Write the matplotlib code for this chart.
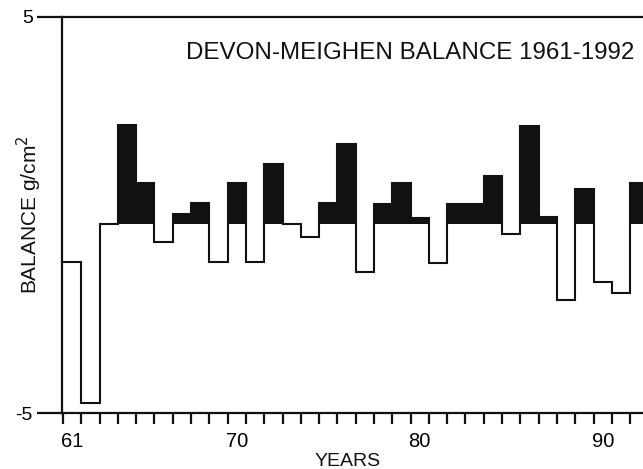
import numpy as np
import matplotlib
matplotlib.use("Agg")
import matplotlib.pyplot as plt
from matplotlib.ticker import FixedLocator, FixedFormatter, NullFormatter

## Annual balance (g/cm2), one value per year
years = list(range(61, 93))
balance = [-1.19, -4.75, -0.23, 2.27, 0.82, -0.69, 0.03, 0.30,
           -1.18, 0.82, -1.18, 1.28, -0.23, -0.55, 0.30, 1.79,
           -1.43, 0.28, 0.80, -0.08, -1.22, 0.28, 0.28, 0.99,
           -0.49, 2.26, -0.04, -2.15, 0.66, -1.68, -1.96, 0.80]
baseline = -0.23   # reference level of the black fill

labelYears = [61, 70, 80, 90]

plt.rcParams["font.family"] = ["Liberation Sans", "DejaVu Sans"]

fig = plt.figure(figsize=(6.43, 4.69), dpi=100, facecolor="white")
ax = fig.add_axes([62/643, 56/469, 581/643, 396/469])

vals = np.array(balance)
edges = np.append(years, years[-1] + 1)

## Black fill above the reference level
ax.bar(years, np.clip(vals - baseline, 0, None), bottom=baseline,
       width=1.0, align="edge", color="#111111", lw=0)

## Step outline of the balance
ax.stairs(vals, edges, baseline=None, color="#111111", lw=1.5)

ax.set_xlim(60.95, 92.7)
ax.set_ylim(-5, 5)

ax.spines["right"].set_visible(False)
for s in ["left", "top", "bottom"]:
  ax.spines[s].set_linewidth(1.6)
  ax.spines[s].set_color("#111111")

## y ticks only at the ends
ax.set_yticks([-5, 5])
ax.set_yticklabels(["-5", "5"], fontsize=14)
ax.tick_params(axis="y", length=18, width=1.6, pad=3, color="#111111")

## x ticks every year, labels centred on the year
ax.xaxis.set_major_locator(FixedLocator(years + [93]))
ax.xaxis.set_major_formatter(NullFormatter())
ax.xaxis.set_minor_locator(FixedLocator([y + 0.5 for y in labelYears]))
ax.xaxis.set_minor_formatter(FixedFormatter([str(y) for y in labelYears]))
ax.tick_params(axis="x", which="major", length=8, width=1.6, direction="out", color="#111111")
ax.tick_params(axis="x", which="minor", length=0, pad=14, labelsize=14.5)

fig.text(410/643, 1 - 53/469, "DEVON-MEIGHEN BALANCE 1961-1992",
         ha="center", va="center", fontsize=17.4, color="#111111")

fig.text(29/643, 1 - 215/469, "BALANCE g/cm$^2$", rotation=90,
         ha="center", va="center", fontsize=15, color="#111111")
fig.text(348/643, 1 - 453/469, "YEARS", ha="center", va="top",
         fontsize=14, color="#111111")

plt.savefig("out.png", dpi=100, facecolor="white")
